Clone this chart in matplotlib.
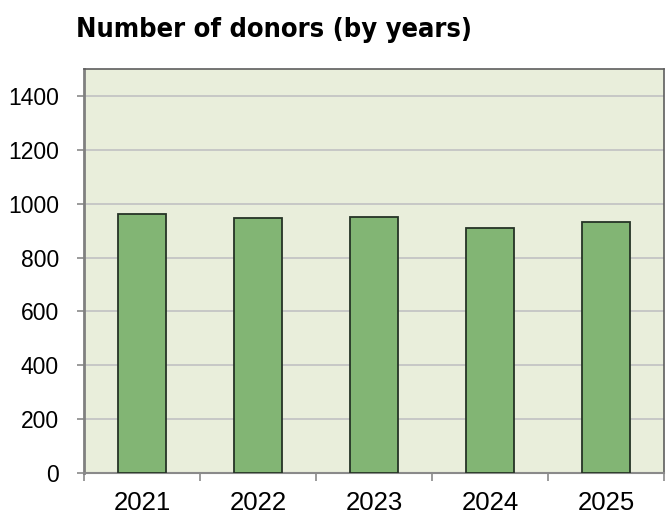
import matplotlib
matplotlib.use("Agg")
import matplotlib.pyplot as plt
import numpy as np

years = ["2021", "2022", "2023", "2024", "2025"]
donors = [962, 947, 950, 911, 932]
yticks = [0, 200, 400, 600, 800, 1000, 1200, 1400]

fig = plt.figure(figsize=(6.69, 5.17), dpi=100)
ax = fig.add_axes([84/669, 1-473/517, 580/669, (473-69)/517])
ax.set_facecolor("#e9eedb")

x = np.arange(len(years))
ax.bar(x, donors, width=0.41, color="#82b574", edgecolor="#263326", linewidth=1.3, zorder=3)

ax.set_xlim(-0.5, len(years)-0.5)
ax.set_ylim(0, 1500)
ax.set_yticks(yticks)
ax.set_yticklabels([str(v) for v in yticks], fontsize=16.5, family="Liberation Sans")
ax.yaxis.grid(True, color="#c4c4c4", linewidth=1.3, zorder=0)
ax.set_axisbelow(True)

ax.set_xticks(x)
ax.set_xticklabels(years, fontsize=18.5, family="Liberation Sans")
ax.set_xticks(np.arange(len(years)+1)-0.5, minor=True)
ax.tick_params(axis="x", which="major", length=0, pad=13)
ax.tick_params(axis="x", which="minor", length=6, width=1.2, color="#8a8a8a")
ax.tick_params(axis="y", length=5, width=1.2, color="#8a8a8a", pad=13)

for s in ["top", "right"]:
    ax.spines[s].set_color("#5e5e5e")
    ax.spines[s].set_linewidth(1.2)
ax.spines["left"].set_color("#808080")
ax.spines["left"].set_linewidth(2)
ax.spines["bottom"].set_color("#8a8a8a")
ax.spines["bottom"].set_linewidth(1.5)

fig.text(76/669, 1-30/517, "Number of donors (by years)", fontsize=19.5, fontweight="bold",
         fontstretch="condensed", family="DejaVu Sans", ha="left", va="center")

fig.savefig("out.png", dpi=100)
